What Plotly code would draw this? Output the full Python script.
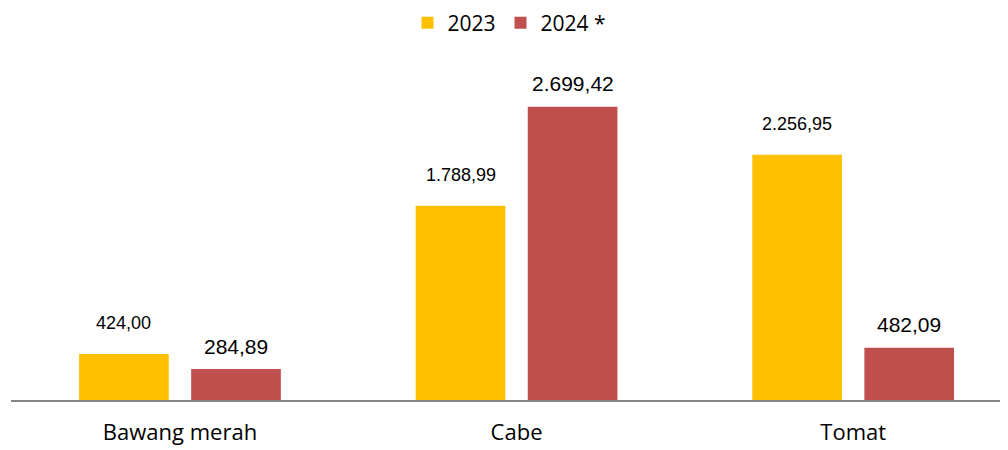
import plotly.graph_objects as go

categories = ["Bawang merah", "Cabe", "Tomat"]
values_2023 = [424.00, 1788.99, 2256.95]
values_2024 = [284.89, 2699.42, 482.09]
series_names = ["2023", "2024 *"]
colors = ["#FFC000", "#C0504D"]


def fmt_id(v):
    s = f"{v:,.2f}"
    return s.replace(",", "X").replace(".", ",").replace("X", ".")


fig = go.Figure()
fig.add_trace(go.Bar(x=categories, y=values_2023, name=series_names[0],
                     marker=dict(color=colors[0], line=dict(width=0))))
fig.add_trace(go.Bar(x=categories, y=values_2024, name=series_names[1],
                     marker=dict(color=colors[1], line=dict(width=0))))

annotations = []
for c, v in zip(categories, values_2023):
    annotations.append(dict(x=c, y=v, xref="x", yref="y", text=fmt_id(v), showarrow=False,
                            xshift=-56, yshift=31, yanchor="middle",
                            font=dict(family="Liberation Sans, Arial", size=18, color="#000000")))
for c, v in zip(categories, values_2024):
    annotations.append(dict(x=c, y=v, xref="x", yref="y", text=fmt_id(v), showarrow=False,
                            xshift=56, yshift=23, yanchor="middle",
                            font=dict(family="Liberation Sans, Arial", size=21, color="#000000")))

fig.update_layout(
    width=1000, height=442,
    margin=dict(l=3, r=0, t=52, b=50),
    paper_bgcolor="white", plot_bgcolor="white",
    barmode="group", bargap=0.334, bargroupgap=0.2,
    showlegend=True,
    legend=dict(orientation="h", x=0.5, xanchor="center", y=1 - 15 / 442, yanchor="middle",
                yref="container", font=dict(family="Open Sans, sans-serif", size=21, color="#000000"),
                itemwidth=30, traceorder="normal"),
    xaxis=dict(range=[-0.502, 2.46], showline=True, linecolor="#868686", linewidth=1.5,
               ticks="", showgrid=False, zeroline=False, automargin=False,
               ticklabelstandoff=12,
               tickfont=dict(family="Open Sans, sans-serif", size=22, color="#000000")),
    yaxis=dict(range=[0, 3130], visible=False, showgrid=False, zeroline=False),
    annotations=annotations,
)

fig.write_html("out.html")
